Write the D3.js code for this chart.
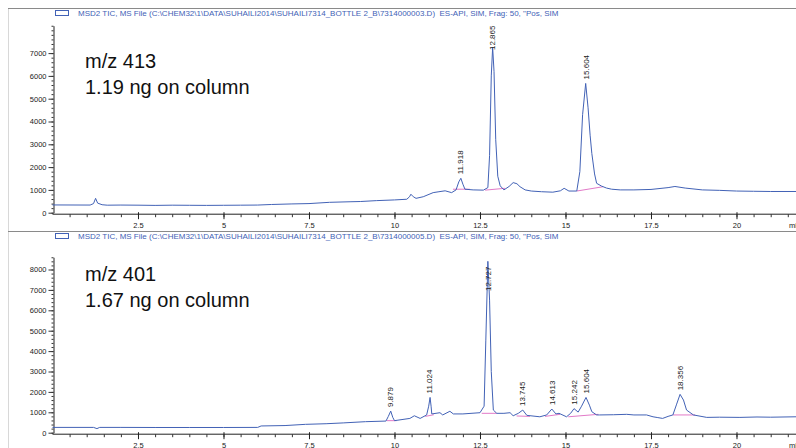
<!DOCTYPE html>
<html>
<head>
<meta charset="utf-8">
<script src="https://cdn.jsdelivr.net/npm/d3@7"></script>
<style>
  html, body { margin: 0; padding: 0; background: #fff; }
  svg { display: block; }
</style>
</head>
<body>
<script>
// --- data (retention time in min, abundance) ---
const trace413 = [
  [0,340],[1.1,335],[1.2,400],[1.26,630],[1.32,420],[1.45,350],[1.6,330],[2.0,335],[2.5,330],
  [3.0,320],[3.5,330],[4.0,325],[4.5,320],[5.0,325],[5.5,330],[6.0,335],[6.4,360],[7.0,385],
  [7.5,400],[8.1,455],[8.7,480],[9.0,490],[9.48,530],[10.0,560],[10.36,590],[10.44,700],
  [10.48,810],[10.55,700],[10.63,630],[10.84,700],[11.13,880],[11.3,920],[11.48,960],
  [11.67,880],[11.8,1000],[11.88,1350],[11.94,1510],[12.0,1250],[12.06,1030],[12.3,1000],
  [12.6,990],[12.73,1100],[12.78,2500],[12.83,6000],[12.87,7250],[12.91,6200],[12.96,3200],
  [13.02,1600],[13.09,1180],[13.2,1000],[13.35,1150],[13.47,1320],[13.58,1270],[13.67,1140],
  [13.82,1000],[14.0,950],[14.3,920],[14.63,900],[14.85,960],[14.96,1070],[15.1,950],
  [15.33,950],[15.42,1800],[15.5,4300],[15.59,5670],[15.66,4600],[15.72,3400],[15.77,2600],
  [15.85,1700],[15.91,1290],[16.05,1170],[16.2,1080],[16.35,1030],[16.6,1000],[17.0,1000],
  [17.5,1020],[18.0,1100],[18.2,1150],[18.5,1080],[19.0,1000],[19.5,980],[20.0,950],
  [20.5,940],[21.0,930],[21.74,930]
];
const trace401 = [
  [0,260],[1.2,260],[1.3,200],[1.38,260],[2,260],[3,255],[4,255],[5,255],[6.0,260],[6.1,330],
  [6.8,350],[7.4,410],[8.0,440],[8.5,480],[9.15,540],[9.75,570],[9.82,800],[9.89,1060],
  [9.95,750],[10.0,590],[10.45,700],[10.58,830],[10.75,700],[10.94,870],[11.0,1300],
  [11.04,1730],[11.07,1300],[11.09,920],[11.33,980],[11.41,870],[11.62,1050],[11.72,920],
  [12.0,920],[12.5,980],[12.62,1300],[12.67,4500],[12.73,8400],[12.78,6500],[12.83,3000],
  [12.89,1110],[12.99,950],[13.2,950],[13.38,980],[13.47,830],[13.62,950],[13.75,1110],
  [13.87,850],[14.25,780],[14.45,870],[14.6,1160],[14.72,920],[14.81,950],[15.03,780],
  [15.15,950],[15.25,1180],[15.37,1010],[15.47,1300],[15.6,1730],[15.7,1350],[15.77,1030],
  [15.91,870],[16.0,870],[16.4,880],[16.79,900],[17.0,870],[17.37,870],[17.56,780],[17.7,740],
  [17.84,700],[18.0,800],[18.14,870],[18.25,1400],[18.35,1880],[18.45,1600],[18.54,1110],
  [18.74,870],[19.13,750],[19.5,760],[20.1,750],[20.6,770],[21.0,760],[21.74,780]
];
// integration baselines [t1, a1, t2, a2]
const base413 = [[11.71,1030,12.2,1030],[12.65,990,13.23,1070],[15.33,950,16.1,1140]];
const base401 = [[9.77,590,10.06,590],[10.9,800,11.15,880],[12.55,950,12.99,950],
  [13.57,820,13.96,800],[14.4,800,14.84,900],[15.08,780,15.96,900],[18.14,870,18.79,870]];
const peaks413 = ["11.918","12.865","15.604"];
const peaks401 = ["9.879","11.024","12.727","13.745","14.613","15.242","15.604","18.356"];
const yTicks413 = [0,1000,2000,3000,4000,5000,6000,7000];
const yTicks401 = [0,1000,2000,3000,4000,5000,6000,7000,8000];
const xTicks = [2.5,5,7.5,10,12.5,15,17.5,20];

const W = 796, H = 448;
const blue = "#4262b6", pink = "#e27ac8";
const svg = d3.select("body").append("svg").attr("width", W).attr("height", H)
  .style("font-family", "'Liberation Sans', Arial, sans-serif");
svg.append("rect").attr("width", W).attr("height", H).attr("fill", "#fff");

// frame lines
svg.append("line").attr("x1", 8.5).attr("x2", 8.5).attr("y1", 8).attr("y2", H).attr("stroke", "#d8d8d8");
svg.append("line").attr("x1", 8).attr("x2", W).attr("y1", 8.5).attr("y2", 8.5).attr("stroke", "#8a8a8a");
svg.append("line").attr("x1", 8).attr("x2", W).attr("y1", 231.5).attr("y2", 231.5).attr("stroke", "#8a8a8a");

const x = d3.scaleLinear().domain([0, 21.74]).range([52.5, 796]);

function panel(o) {
  const g = svg.append("g");
  const y = d3.scaleLinear().domain([0, o.ymax]).range([o.y0, o.y0 - o.ymax * o.k]);

  // header
  g.append("rect").attr("x", 55.5).attr("y", o.hy - 5.5).attr("width", 13).attr("height", 5)
    .attr("fill", "none").attr("stroke", blue);
  g.append("text").attr("x", 78).attr("y", o.hy).attr("font-size", 8).attr("fill", blue)
    .attr("xml:space", "preserve").text(o.title);

  // y axis
  g.append("g").attr("transform", "translate(53.5,0)")
    .call(d3.axisLeft(y).tickValues(d3.range(0, o.ymax + 1, 200)).tickSize(2).tickFormat("").tickSizeOuter(0))
    .call(a => a.select(".domain").attr("stroke", "#222"))
    .call(a => a.selectAll(".tick line").attr("stroke", "#333"));
  g.append("g").attr("transform", "translate(53.5,0)")
    .call(d3.axisLeft(y).tickValues(o.yTicks).tickSize(5).tickPadding(2).tickSizeOuter(0).tickFormat(d3.format("d")))
    .call(a => a.select(".domain").remove())
    .call(a => a.selectAll(".tick line").attr("stroke", "#333"))
    .call(a => a.selectAll("text").attr("font-size", 7.5).attr("fill", "#222")
      .attr("font-family", "'Liberation Sans', Arial, sans-serif"));

  // x axis
  const xa = g.append("g").attr("transform", `translate(0,${o.y0 + 1.5})`);
  xa.call(d3.axisBottom(x).tickValues(d3.range(0.5, 21.6, 0.5)).tickSize(3).tickFormat("").tickSizeOuter(0))
    .call(a => a.select(".domain").attr("stroke", "#222").attr("d", `M52.5,0H${W}`))
    .call(a => a.selectAll(".tick line").attr("stroke", "#333"));
  g.append("g").attr("transform", `translate(0,${o.y0 + 1.5})`)
    .call(d3.axisBottom(x).tickValues(xTicks).tickSize(5).tickPadding(3).tickFormat(d3.format("")))
    .call(a => a.select(".domain").remove())
    .call(a => a.selectAll(".tick line").attr("y1", -2).attr("stroke", "#222"))
    .call(a => a.selectAll("text").attr("font-size", 7.5).attr("fill", "#222")
      .attr("font-family", "'Liberation Sans', Arial, sans-serif"));
  g.append("text").attr("x", 789).attr("y", o.y0 + 15).attr("font-size", 7.5).attr("fill", "#222").text("min");

  // integration baselines
  g.selectAll(".bl").data(o.base).join("line")
    .attr("x1", d => x(d[0])).attr("y1", d => y(d[1]))
    .attr("x2", d => x(d[2])).attr("y2", d => y(d[3]))
    .attr("stroke", pink).attr("stroke-width", 1);

  // trace
  g.append("path").datum(o.trace)
    .attr("d", d3.line().x(d => x(d[0])).y(d => y(d[1])))
    .attr("fill", "none").attr("stroke", blue).attr("stroke-width", 1)
    .attr("stroke-linejoin", "round");

  // peak labels
  g.selectAll(".pk").data(o.peaks).join("text")
    .attr("transform", d => {
      const t = +d;
      const top = d3.max(o.trace.filter(p => Math.abs(p[0] - t) < 0.12), p => p[1]);
      const yy = Math.max(y(top) - 4, o.labelMin);
      return `translate(${x(t)},${yy}) rotate(-90)`;
    })
    .attr("dy", "0.35em").attr("font-size", 8).attr("fill", "#222").text(d => d);

  // annotation
  g.append("text").attr("x", 85).attr("y", o.ay).attr("font-size", 20).attr("fill", "#111").text(o.note1);
  g.append("text").attr("x", 85).attr("y", o.ay + 26).attr("font-size", 20).attr("fill", "#111").text(o.note2);
}

panel({
  title: "MSD2 TIC, MS File (C:\\CHEM32\\1\\DATA\\SUHAILI2014\\SUHAILI7314_BOTTLE 2_B\\7314000003.D)  ES-API, SIM, Frag: 50, \"Pos, SIM",
  hy: 16, y0: 212.7, k: 0.0228, ymax: 8200, yTicks: yTicks413,
  trace: trace413, base: base413, peaks: peaks413, labelMin: 50,
  ay: 68, note1: "m/z 413", note2: "1.19 ng on column"
});
panel({
  title: "MSD2 TIC, MS File (C:\\CHEM32\\1\\DATA\\SUHAILI2014\\SUHAILI7314_BOTTLE 2_B\\7314000005.D)  ES-API, SIM, Frag: 50, \"Pos, SIM",
  hy: 239, y0: 432.7, k: 0.0204, ymax: 8600, yTicks: yTicks401,
  trace: trace401, base: base401, peaks: peaks401, labelMin: 291,
  ay: 281, note1: "m/z 401", note2: "1.67 ng on column"
});
</script>
</body>
</html>
